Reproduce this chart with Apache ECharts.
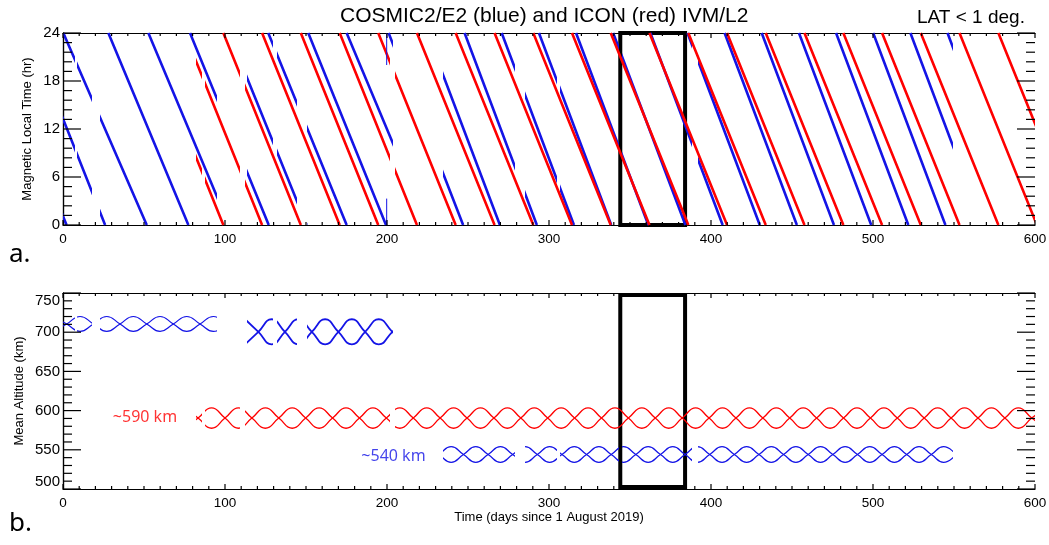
<!DOCTYPE html>
<html>
<head>
<meta charset="utf-8">
<script src="https://cdn.jsdelivr.net/npm/echarts@6/dist/echarts.min.js"></script>
<style>
  html, body { margin: 0; background: #fff; }
  #chart { width: 1049px; height: 545px; }
</style>
</head>
<body>
<div id="chart"></div>
<script>
// MLT tracks, each one [day where MLT = 24, day where MLT = 0]
const blueTracks = [
  [-46, 2.2], [-21, 26], [0.2, 51.7], [28, 77.4], [52.7, 102.4], [78.4, 127],
  [102.4, 150.4], [126.7, 175.1], [151.4, 199.4], [175.1, 224.8], [201, 247],
  [224.8, 269.7], [247.9, 292.5], [270.8, 315.4], [293.8, 338.4], [316.7, 361.3],
  [339.6, 384.2], [362.6, 407.2], [385.5, 430.1], [408.4, 453], [431.3, 475.9],
  [454.3, 498.9], [477.2, 521.8], [500.1, 544.7], [523.1, 567.7], [546, 590.6]
];
const redTracks = [
  [51.2, 99], [75.1, 122.9], [99, 146.8], [122.9, 170.8], [146.8, 194.6],
  [170.8, 218.5], [194.6, 242.4], [218.5, 266.4], [242.4, 290.3], [266.4, 314.2],
  [290.3, 338.1], [314.2, 362], [338.1, 386], [362, 409.9], [386, 433.8],
  [409.9, 457.7], [433.8, 481.7], [457.7, 505.6], [481.7, 529.5], [505.6, 553.4],
  [529.5, 577.4], [553.4, 601.2], [577.4, 625.3]
];
// thin vertical blue stroke near day 200
const blueSpike = [[199.8, 24], [199.8, 20], ['-', '-'], [199.8, 3.3], [199.8, 0]];

// days with data
const blueWindows = [
  [0, 7.5], [8.5, 17.7], [22.8, 94.9], [113.4, 129.8], [131.9, 144.3],
  [150.4, 203.9], [234.8, 279.3], [285.4, 304.7], [306.8, 343], [345, 388], [392, 549.6]
];
const redWindows = [[82, 85.5], [87.5, 109.3], [112.4, 201.9], [204.9, 600]];

// altitude envelopes: node days alternate extreme / crossing, first one is an extreme
const blueHighNodes = [-5.9, 2.3, 10.5, 18.8, 27.0, 35.2, 43.4, 51.7, 59.9, 68.1, 76.4, 84.6, 92.8, 101.0];
const blueHigh = [710.5, 9.5]; // mean, half-range (km)
const blueMidNodes = [112.4, 120.6, 128.8, 137.0, 145.3, 153.6, 161.8, 170.0, 178.3, 186.5, 194.9, 203.3, 211.5];
const blueMid = [700.5, 16];
const redNodes = [
  75.1, 83.4, 91.7, 100.0, 108.3, 116.6, 124.9, 133.2, 141.5, 149.8, 158.1, 166.4,
  174.7, 183.0, 191.3, 199.6, 207.9, 216.2, 224.5, 232.8, 241.1, 249.4, 257.7, 266.0,
  274.3, 282.6, 290.9, 299.2, 307.5, 315.8, 324.1, 332.4, 340.7, 349.0, 357.3, 365.6,
  373.9, 382.2, 390.5, 398.8, 407.1, 415.4, 423.7, 432.0, 440.3, 448.6, 456.9, 465.2,
  473.5, 481.8, 490.1, 498.4, 506.7, 515.0, 523.3, 531.6, 539.9, 548.2, 556.5, 564.8,
  573.1, 581.4, 589.7, 598.0, 606.3
];
const redAlt = [590.5, 13];
const blueLowNodes = [
  224.4, 232.0, 239.6, 247.2, 254.8, 262.4, 270.0, 277.6, 285.2, 292.8, 300.4, 308.0,
  315.6, 323.2, 330.8, 338.4, 346.0, 353.6, 361.2, 368.8, 376.4, 384.0, 391.6, 399.2,
  406.8, 414.4, 422.0, 429.6, 437.2, 444.8, 452.4, 460.0, 467.6, 475.2, 482.8, 490.4,
  498.0, 505.6, 513.2, 520.8, 528.4, 536.0, 543.6, 551.2
];
const blueLow = [544, 10];

const boxDays = [344, 384];

const BLUE = '#1414e6';
const RED = '#ff0000';
const FONT = 'Liberation Sans, Arial, sans-serif';

function trackData(tracks) {
  const out = [];
  tracks.forEach(function (t) {
    out.push([t[0], 24], [t[1], 0], ['-', '-']);
  });
  return out;
}

function waveData(nodes, level, sign) {
  return nodes.map(function (d, i) {
    if (i % 2) return [d, level[0]];
    return [d, level[0] + sign * level[1] * (i % 4 === 0 ? 1 : -1)];
  });
}

function mask(seriesIndex, windows, color) {
  return {
    type: 'piecewise',
    show: false,
    dimension: 0,
    seriesIndex: seriesIndex,
    pieces: windows.map(function (w) { return { gte: w[0], lte: w[1], color: color }; }),
    outOfRange: { color: 'rgba(0,0,0,0)' }
  };
}

function xAxesFor(grid, name) {
  const one = function (pos, labels) {
    return {
      gridIndex: grid, type: 'value', min: 0, max: 600, interval: 100, position: pos,
      name: labels ? (name || '') : '', nameLocation: 'middle', nameGap: 22, nameMoveOverlap: false,
      nameTextStyle: { color: '#000', fontSize: 13, fontFamily: FONT },
      axisLine: { show: true, onZero: false, lineStyle: { color: '#000', width: 1.2 } },
      axisTick: { show: false },
      axisLabel: { show: labels, color: '#000', fontSize: 13.5, margin: 7, fontFamily: FONT },
      splitLine: { show: false }
    };
  };
  return [one('bottom', true), one('top', false)];
}

function yAxesFor(grid, min, max, step, name, gap, edgeAlign) {
  const one = function (pos, labels) {
    const label = { show: labels, color: '#000', fontSize: 15, margin: 3, fontFamily: FONT };
    if (edgeAlign) {
      label.verticalAlignMaxLabel = 'top';
      label.verticalAlignMinLabel = 'bottom';
    }
    return {
      gridIndex: grid, type: 'value', min: min, max: max, interval: step, position: pos,
      name: labels ? name : '', nameLocation: 'middle', nameGap: gap, nameMoveOverlap: false,
      nameTextStyle: { color: '#000', fontSize: 13, fontFamily: FONT },
      axisLine: { show: true, lineStyle: { color: '#000', width: 1.2 } },
      axisTick: { show: false },
      axisLabel: label,
      splitLine: { show: false }
    };
  };
  return [one('left', true), one('right', false)];
}

// top panel uses axis index 0, bottom panel axis index 2
const TOP = 0, BOT = 2;

// inward ticks on all four sides (every 5th one is major), placed through the axes' own scales
function ticks(ai, yRange, xStep, yStep) {
  const data = [];
  for (let k = 0; k * xStep <= 600; k++) data.push([0, k * xStep, k % 10 === 0 ? 5 : 3]);
  for (let k = 0; yRange[0] + k * yStep <= yRange[1] + 1e-9; k++) {
    data.push([1, yRange[0] + k * yStep, k % 5 === 0 ? 18 : 9]);
  }
  const st = { stroke: '#000', lineWidth: 1.2 };
  return {
    type: 'custom', xAxisIndex: ai, yAxisIndex: ai, data: data, clip: false, silent: true, z: 5,
    renderItem: function (params, api) {
      const kind = api.value(0), v = api.value(1), len = api.value(2);
      let a, b;
      if (kind === 0) {
        a = api.coord([v, yRange[0]]); b = api.coord([v, yRange[1]]);
        return { type: 'group', children: [
          { type: 'line', shape: { x1: a[0], y1: a[1], x2: a[0], y2: a[1] - len }, style: st },
          { type: 'line', shape: { x1: b[0], y1: b[1], x2: b[0], y2: b[1] + len }, style: st }
        ] };
      }
      a = api.coord([0, v]); b = api.coord([600, v]);
      return { type: 'group', children: [
        { type: 'line', shape: { x1: a[0], y1: a[1], x2: a[0] + len, y2: a[1] }, style: st },
        { type: 'line', shape: { x1: b[0], y1: b[1], x2: b[0] - len, y2: b[1] }, style: st }
      ] };
    }
  };
}

function wave(nodes, level, sign, width) {
  return {
    type: 'line', xAxisIndex: BOT, yAxisIndex: BOT, data: waveData(nodes, level, sign),
    smooth: 0.5, showSymbol: false, silent: true,
    lineStyle: { width: width }
  };
}

function box(ai, y0, y1) {
  return {
    type: 'line', xAxisIndex: ai, yAxisIndex: ai, data: [], z: 10, silent: true,
    markArea: {
      silent: true,
      itemStyle: { color: 'rgba(0,0,0,0)', borderColor: '#000', borderWidth: 4 },
      data: [[{ xAxis: boxDays[0], yAxis: y0 }, { xAxis: boxDays[1], yAxis: y1 }]]
    }
  };
}

function note(text, day, alt, color) {
  return {
    type: 'scatter', xAxisIndex: BOT, yAxisIndex: BOT, data: [[day, alt]], symbolSize: 1,
    silent: true, itemStyle: { color: 'rgba(0,0,0,0)' },
    label: { show: true, position: 'inside', formatter: text, color: color, fontSize: 16, fontFamily: 'Noto Sans, sans-serif' }
  };
}

const chart = echarts.init(document.getElementById('chart'), null, { renderer: 'canvas' });

chart.setOption({
  backgroundColor: '#fff',
  animation: false,
  grid: [
    { left: 63, right: 14, top: 33, height: 192, outerBoundsMode: 'none' },
    { left: 63, right: 14, top: 293, height: 196, outerBoundsMode: 'none' }
  ],
  xAxis: xAxesFor(0).concat(xAxesFor(1, 'Time (days since 1 August 2019)')),
  yAxis: yAxesFor(0, 0, 24, 6, 'Magnetic Local Time (hr)', 29, false)
    .concat(yAxesFor(1, 500, 750, 50, 'Mean Altitude (km)', 37, true)),
  visualMap: [
    mask([0, 3, 4, 5, 6, 9, 10], blueWindows, BLUE),
    mask([1, 7, 8], redWindows, RED)
  ],
  series: [
    { type: 'line', xAxisIndex: TOP, yAxisIndex: TOP, data: trackData(blueTracks), showSymbol: false,
      silent: true, lineStyle: { width: 2.6 } },
    { type: 'line', xAxisIndex: TOP, yAxisIndex: TOP, data: trackData(redTracks), showSymbol: false,
      silent: true, lineStyle: { width: 2.6 } },
    { type: 'line', xAxisIndex: TOP, yAxisIndex: TOP, data: blueSpike, showSymbol: false,
      silent: true, lineStyle: { color: BLUE, width: 1 } },
    wave(blueHighNodes, blueHigh, 1, 1.2),
    wave(blueHighNodes, blueHigh, -1, 1.2),
    wave(blueMidNodes, blueMid, 1, 1.8),
    wave(blueMidNodes, blueMid, -1, 1.8),
    wave(redNodes, redAlt, 1, 1.3),
    wave(redNodes, redAlt, -1, 1.3),
    wave(blueLowNodes, blueLow, 1, 1.2),
    wave(blueLowNodes, blueLow, -1, 1.2),
    box(TOP, 0, 24),
    box(BOT, 502.5, 747.5),
    note('~590 km', 50.6, 590.7, RED),
    note('~540 km', 204, 541, BLUE),
    ticks(TOP, [0, 24], 10, 1.2),
    ticks(BOT, [500, 750], 10, 10)
  ],
  graphic: [
    { type: 'text', left: 340, top: 6, style: { text: 'COSMIC2/E2 (blue) and ICON (red) IVM/L2', fontSize: 21, fontFamily: FONT, fill: '#000' } },
    { type: 'text', left: 917, top: 8, style: { text: 'LAT < 1 deg.', fontSize: 19, fontFamily: FONT, fill: '#000' } },
    { type: 'text', left: 9, top: 242, style: { text: 'a.', fontSize: 26, fontFamily: 'Noto Sans, sans-serif', fill: '#000' } },
    { type: 'text', left: 9, top: 511, style: { text: 'b.', fontSize: 26, fontFamily: 'Noto Sans, sans-serif', fill: '#000' } }
  ]
});
</script>
</body>
</html>
